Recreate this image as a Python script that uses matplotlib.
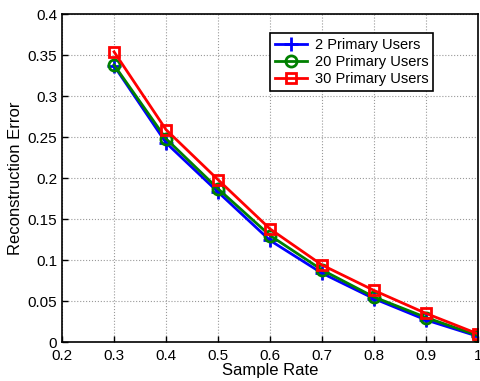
import matplotlib
matplotlib.use('Agg')
import matplotlib.pyplot as plt

plt.rcParams['font.family'] = ['Liberation Sans', 'DejaVu Sans']

sample_rate = [0.3, 0.4, 0.5, 0.6, 0.7, 0.8, 0.9, 1.0]
err_2 = [0.337, 0.243, 0.183, 0.124, 0.084, 0.053, 0.027, 0.007]
err_20 = [0.338, 0.248, 0.187, 0.130, 0.088, 0.055, 0.030, 0.008]
err_30 = [0.354, 0.259, 0.198, 0.138, 0.094, 0.063, 0.035, 0.010]

fig = plt.figure(figsize=(4.81, 3.81), dpi=100)
ax = fig.add_axes([0.129, 0.102, 0.865, 0.861])

ax.plot(sample_rate, err_2, color='blue', lw=2, marker='+', ms=10, mew=2,
        label='2 Primary Users')
ax.plot(sample_rate, err_20, color='green', lw=2, marker='o', ms=8, mew=2,
        mfc='none', label='20 Primary Users')
ax.plot(sample_rate, err_30, color='red', lw=2, marker='s', ms=7, mew=2,
        mfc='none', label='30 Primary Users')

ax.set_xlim(0.2, 1.0)
ax.set_ylim(0, 0.4)
ax.set_xticks([0.2, 0.3, 0.4, 0.5, 0.6, 0.7, 0.8, 0.9, 1.0])
ax.set_xticklabels(['0.2', '0.3', '0.4', '0.5', '0.6', '0.7', '0.8', '0.9', '1'])
ax.set_yticks([0, 0.05, 0.1, 0.15, 0.2, 0.25, 0.3, 0.35, 0.4])
ax.set_yticklabels(['0', '0.05', '0.1', '0.15', '0.2', '0.25', '0.3', '0.35', '0.4'])
ax.tick_params(direction='in', labelsize=11, length=4, width=1)
ax.tick_params(axis='x', pad=5)
ax.grid(True, linestyle=':', color='#999999', lw=0.8)
for s in ax.spines.values():
    s.set_linewidth(1.2)

ax.set_xlabel('Sample Rate', fontsize=12, labelpad=0)
ax.set_ylabel('Reconstruction Error', fontsize=12, labelpad=3)

leg = ax.legend(loc='upper right', bbox_to_anchor=(0.91, 0.965), fontsize=10.5,
                fancybox=False, framealpha=1, edgecolor='black',
                handlelength=2.2, borderpad=0.35, labelspacing=0.22,
                handletextpad=0.5)
leg.get_frame().set_linewidth(1.2)

fig.savefig('out.png', dpi=100)
